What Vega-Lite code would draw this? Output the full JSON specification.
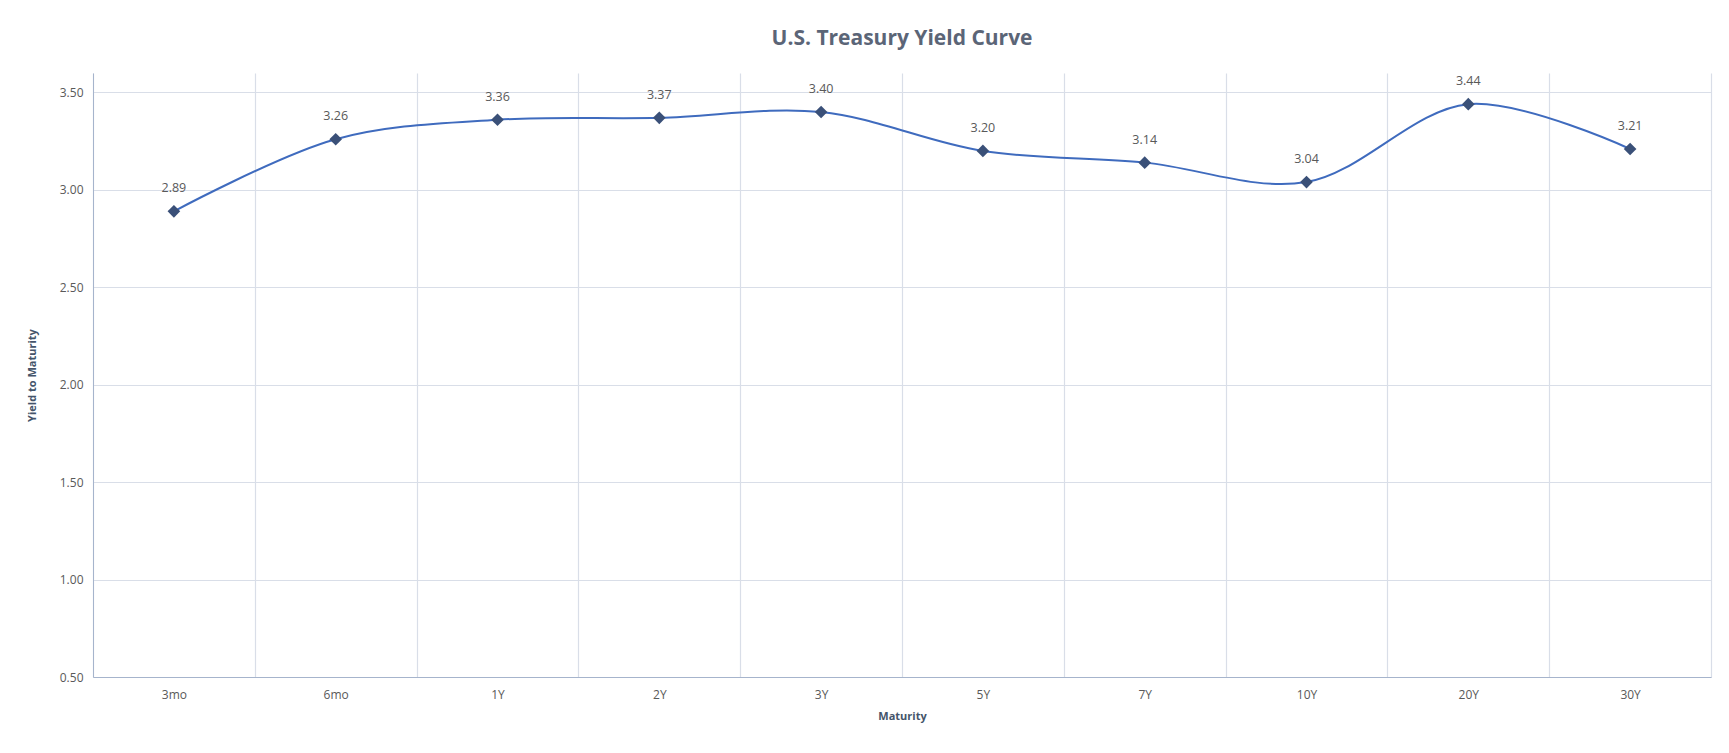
{
  "$schema": "https://vega.github.io/schema/vega-lite/v6.json",
  "width": 1618,
  "height": 604,
  "autosize": {"type": "none"},
  "padding": {"left": 93, "top": 73, "right": 18, "bottom": 76},
  "background": "white",
  "title": {
    "text": "U.S. Treasury Yield Curve",
    "font": "Open Sans",
    "fontSize": 21,
    "fontWeight": "bold",
    "color": "#5B6577",
    "anchor": "middle",
    "offset": 24
  },
  "data": {
    "values": [
      {"i": 0, "maturity": "3mo", "yield": 2.89},
      {"i": 1, "maturity": "6mo", "yield": 3.26},
      {"i": 2, "maturity": "1Y", "yield": 3.36},
      {"i": 3, "maturity": "2Y", "yield": 3.37},
      {"i": 4, "maturity": "3Y", "yield": 3.40},
      {"i": 5, "maturity": "5Y", "yield": 3.20},
      {"i": 6, "maturity": "7Y", "yield": 3.14},
      {"i": 7, "maturity": "10Y", "yield": 3.04},
      {"i": 8, "maturity": "20Y", "yield": 3.44},
      {"i": 9, "maturity": "30Y", "yield": 3.21}
    ]
  },
  "config": {
    "view": {"stroke": null},
    "axis": {
      "labelFont": "Open Sans",
      "labelFontSize": 12,
      "labelColor": "#595959",
      "titleFont": "Open Sans",
      "titleFontSize": 11,
      "titleColor": "#44546A",
      "titleFontWeight": "bold",
      "gridColor": "#D9DEE8",
      "gridWidth": 1.2
    }
  },
  "resolve": {"axis": {"x": "independent"}},
  "layer": [
    {
      "mark": {"type": "line", "interpolate": "catmull-rom", "color": "#3F6BBE", "strokeWidth": 2},
      "encoding": {
        "x": {
          "field": "i", "type": "quantitative",
          "scale": {"domain": [-0.5, 9.5], "nice": false, "zero": false},
          "axis": {
            "title": "Maturity",
            "values": [0, 1, 2, 3, 4, 5, 6, 7, 8, 9],
            "labelExpr": "['3mo','6mo','1Y','2Y','3Y','5Y','7Y','10Y','20Y','30Y'][datum.value]",
            "grid": false, "ticks": false, "domain": true, "domainColor": "#A6B4CC",
            "labelPadding": 12, "titlePadding": 10
          }
        },
        "y": {
          "field": "yield", "type": "quantitative",
          "scale": {"domain": [0.5, 3.6], "nice": false, "zero": false},
          "axis": {
            "title": "Yield to Maturity",
            "values": [0.5, 1, 1.5, 2, 2.5, 3, 3.5],
            "format": ".2f",
            "ticks": false, "domainColor": "#A6B4CC",
            "labelPadding": 10, "titlePadding": 22
          }
        }
      }
    },
    {
      "mark": {"type": "point", "shape": "diamond", "filled": true, "size": 160, "color": "#3A5078", "opacity": 1},
      "encoding": {
        "x": {"field": "i", "type": "quantitative",
          "axis": {"values": [-0.5, 0.5, 1.5, 2.5, 3.5, 4.5, 5.5, 6.5, 7.5, 8.5, 9.5], "labels": false, "ticks": false, "domain": false, "grid": true, "title": null}},
        "y": {"field": "yield", "type": "quantitative"}
      }
    },
    {
      "mark": {"type": "text", "dy": -23, "font": "Open Sans", "fontSize": 12.5, "color": "#595959"},
      "encoding": {
        "x": {"field": "i", "type": "quantitative", "axis": null},
        "y": {"field": "yield", "type": "quantitative"},
        "text": {"field": "yield", "type": "quantitative", "format": ".2f"}
      }
    }
  ]
}
